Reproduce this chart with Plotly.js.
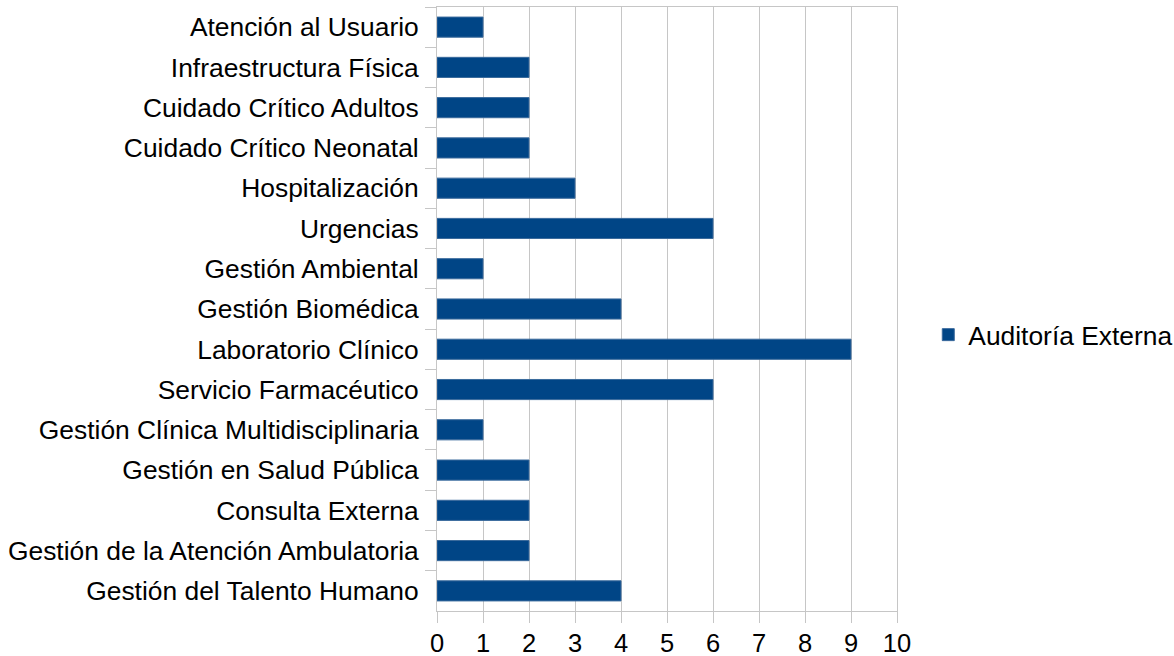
<!DOCTYPE html>
<html>
<head>
<meta charset="utf-8">
<script src="https://cdn.plot.ly/plotly-3.0.1.min.js"></script>
<style>
html,body{margin:0;padding:0;background:#fff;}
#chart{width:1174px;height:656px;}
</style>
</head>
<body>
<div id="chart"></div>
<script>
const categories = [
  "Atención al Usuario",
  "Infraestructura Física",
  "Cuidado Crítico Adultos",
  "Cuidado Crítico Neonatal",
  "Hospitalización",
  "Urgencias",
  "Gestión Ambiental",
  "Gestión Biomédica",
  "Laboratorio Clínico",
  "Servicio Farmacéutico",
  "Gestión Clínica Multidisciplinaria",
  "Gestión en Salud Pública",
  "Consulta Externa",
  "Gestión de la Atención Ambulatoria",
  "Gestión del Talento Humano"
];
const auditoriaExterna = [1, 2, 2, 2, 3, 6, 1, 4, 9, 6, 1, 2, 2, 2, 4];
const seriesName = "Auditoría Externa";
const xTicks = [0,1,2,3,4,5,6,7,8,9,10];

const gridColor = "#c6c6c6";
const font = {family: "Liberation Sans, Arial, sans-serif", size: 26.4, color: "#000"};
const xFont = {family: "Liberation Sans, Arial, sans-serif", size: 25.5, color: "#000"};

const data = [{
  type: "bar",
  orientation: "h",
  y: categories,
  x: auditoriaExterna,
  name: seriesName,
  marker: {color: "#004586", line: {color: "#3a6a9c", width: 1}},
  width: 0.5,
  hoverinfo: "x+y"
}];

const layout = {
  width: 1174,
  height: 656,
  margin: {l: 437, r: 277, t: 7, b: 45, pad: 0, autoexpand: false},
  paper_bgcolor: "#fff",
  plot_bgcolor: "#fff",
  font: font,
  showlegend: true,
  legend: {
    x: 1.068, xanchor: "left",
    y: 0.457, yanchor: "middle",
    font: font,
    bgcolor: "rgba(0,0,0,0)"
  },
  xaxis: {
    range: [0, 10],
    tickvals: xTicks,
    ticktext: xTicks.map(String),
    showgrid: true,
    gridcolor: gridColor,
    gridwidth: 1,
    zeroline: false,
    showline: true,
    linecolor: gridColor,
    linewidth: 1,
    mirror: true,
    ticks: "outside",
    ticklen: 11,
    tickcolor: gridColor,
    tickfont: xFont,
    ticklabelstandoff: -2,
    fixedrange: true
  },
  yaxis: {
    type: "category",
    autorange: "reversed",
    showgrid: false,
    zeroline: false,
    showline: true,
    linecolor: gridColor,
    linewidth: 1,
    mirror: true,
    ticks: "outside",
    tickson: "boundaries",
    ticklen: 11,
    tickcolor: gridColor,
    tickfont: font,
    ticklabelstandoff: 12,
    fixedrange: true
  }
};

Plotly.newPlot("chart", data, layout, {displayModeBar: false, staticPlot: true});
</script>
</body>
</html>
